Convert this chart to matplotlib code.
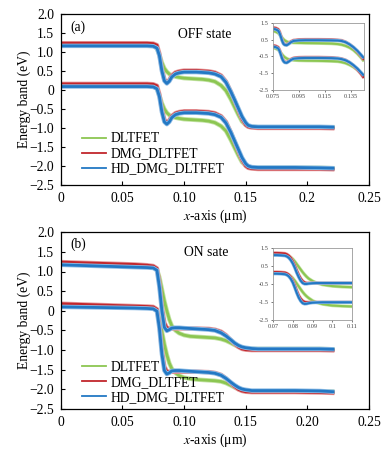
import matplotlib
matplotlib.use('Agg')
import matplotlib.pyplot as plt
import matplotlib.patheffects as pe

plt.rcParams['font.family'] = ['Liberation Serif', 'DejaVu Serif']
plt.rcParams['mathtext.fontset'] = 'stix'

# ---------------- data ----------------
# (a) OFF state, main panel
xa = [0, 0.02, 0.04, 0.06, 0.07, 0.075, 0.078, 0.080, 0.082, 0.084, 0.086, 0.088,
      0.090, 0.093, 0.096, 0.100, 0.105, 0.110, 0.115, 0.120, 0.125, 0.130, 0.134,
      0.138, 0.141, 0.144, 0.147, 0.150, 0.152, 0.155, 0.160, 0.170, 0.190, 0.210, 0.222]
a_ec_dl = [1.18, 1.18, 1.18, 1.18, 1.17, 1.16, 1.10, 0.92, 0.72, 0.57, 0.48, 0.42,
           0.38, 0.35, 0.33, 0.31, 0.30, 0.29, 0.28, 0.26, 0.22, 0.12, -0.02,
           -0.25, -0.45, -0.65, -0.83, -0.92, -0.95, -0.97, -0.98, -0.98, -0.98, -0.98, -0.98]
a_ec_dmg = [1.23, 1.23, 1.23, 1.23, 1.23, 1.22, 1.18, 0.95, 0.55, 0.28, 0.20, 0.26,
            0.38, 0.46, 0.49, 0.51, 0.51, 0.51, 0.50, 0.49, 0.46, 0.38, 0.22,
            -0.05, -0.28, -0.52, -0.76, -0.92, -0.97, -0.99, -1.00, -1.00, -1.00, -1.00, -1.01]
a_ec_hd = [1.16, 1.16, 1.16, 1.16, 1.16, 1.15, 1.10, 0.90, 0.50, 0.24, 0.17, 0.23,
           0.34, 0.42, 0.45, 0.47, 0.47, 0.47, 0.46, 0.45, 0.42, 0.35, 0.20,
           -0.05, -0.26, -0.48, -0.70, -0.86, -0.93, -0.96, -0.97, -0.97, -0.97, -0.97, -0.98]
a_ev_dl = [0.12, 0.12, 0.12, 0.12, 0.11, 0.10, 0.04, -0.15, -0.35, -0.50, -0.60, -0.66,
           -0.70, -0.73, -0.75, -0.77, -0.78, -0.79, -0.80, -0.82, -0.86, -0.95, -1.08,
           -1.32, -1.52, -1.72, -1.90, -1.99, -2.02, -2.04, -2.05, -2.05, -2.05, -2.05, -2.06]
a_ev_dmg = [0.16, 0.16, 0.16, 0.16, 0.16, 0.15, 0.11, -0.12, -0.52, -0.78, -0.86, -0.80,
            -0.69, -0.61, -0.58, -0.56, -0.56, -0.56, -0.57, -0.58, -0.61, -0.69, -0.84,
            -1.12, -1.36, -1.60, -1.84, -2.00, -2.05, -2.07, -2.08, -2.08, -2.08, -2.08, -2.09]
a_ev_hd = [0.09, 0.09, 0.09, 0.09, 0.09, 0.08, 0.03, -0.18, -0.58, -0.84, -0.90, -0.84,
           -0.73, -0.65, -0.62, -0.60, -0.60, -0.60, -0.61, -0.62, -0.65, -0.72, -0.87,
           -1.12, -1.34, -1.56, -1.78, -1.94, -2.00, -2.03, -2.04, -2.04, -2.04, -2.05, -2.06]

# (a) inset
xai = [0.075, 0.077, 0.079, 0.080, 0.081, 0.082, 0.083, 0.084, 0.0855, 0.087, 0.089,
       0.091, 0.095, 0.100, 0.110, 0.120, 0.125, 0.128, 0.131, 0.134, 0.137, 0.140, 0.143, 0.145]
ai_ec_dl = [1.02, 0.98, 0.90, 0.82, 0.72, 0.62, 0.53, 0.46, 0.39, 0.35, 0.33,
            0.32, 0.31, 0.30, 0.29, 0.27, 0.24, 0.20, 0.13, 0.03, -0.12, -0.33, -0.58, -0.78]
ai_ec_dmg = [1.22, 1.20, 1.12, 0.98, 0.75, 0.50, 0.30, 0.22, 0.20, 0.28, 0.40,
             0.47, 0.50, 0.51, 0.51, 0.50, 0.48, 0.45, 0.36, 0.22, 0.04, -0.20, -0.48, -0.70]
ai_ec_hd = [1.14, 1.12, 1.04, 0.90, 0.68, 0.44, 0.26, 0.19, 0.17, 0.24, 0.36,
            0.43, 0.46, 0.47, 0.47, 0.46, 0.45, 0.42, 0.35, 0.22, 0.05, -0.16, -0.42, -0.60]
ai_ev_dl = [0.02, -0.02, -0.10, -0.18, -0.28, -0.38, -0.47, -0.54, -0.62, -0.67, -0.70,
            -0.72, -0.74, -0.75, -0.76, -0.78, -0.80, -0.84, -0.90, -1.00, -1.13, -1.30, -1.50, -1.65]
ai_ev_dmg = [0.15, 0.13, 0.05, -0.10, -0.33, -0.57, -0.74, -0.82, -0.85, -0.78, -0.66,
             -0.59, -0.56, -0.55, -0.55, -0.57, -0.60, -0.64, -0.72, -0.86, -1.04, -1.28, -1.56, -1.78]
ai_ev_hd = [0.08, 0.06, -0.02, -0.16, -0.38, -0.62, -0.78, -0.86, -0.88, -0.81, -0.70,
            -0.63, -0.60, -0.59, -0.59, -0.60, -0.62, -0.66, -0.73, -0.85, -1.02, -1.22, -1.47, -1.64]

# (b) ON state, main panel
xb = [0, 0.02, 0.04, 0.06, 0.070, 0.075, 0.078, 0.080, 0.082, 0.084, 0.086, 0.088,
      0.090, 0.093, 0.096, 0.100, 0.105, 0.110, 0.120, 0.125, 0.130, 0.134, 0.138,
      0.141, 0.144, 0.147, 0.150, 0.155, 0.160, 0.170, 0.190, 0.210, 0.222]
b_ec_dl = [1.20, 1.18, 1.17, 1.15, 1.13, 1.11, 1.05, 0.85, 0.55, 0.25, 0.0, -0.22,
           -0.38, -0.50, -0.57, -0.62, -0.65, -0.66, -0.68, -0.69, -0.72, -0.76, -0.82,
           -0.87, -0.91, -0.94, -0.96, -0.97, -0.97, -0.97, -0.97, -0.97, -0.98]
b_ec_dmg = [1.24, 1.22, 1.20, 1.18, 1.16, 1.14, 1.08, 0.70, 0.10, -0.30, -0.43, -0.45,
            -0.45, -0.45, -0.45, -0.45, -0.45, -0.45, -0.46, -0.48, -0.53, -0.62, -0.75,
            -0.84, -0.92, -0.97, -0.99, -1.00, -1.00, -1.00, -1.00, -1.00, -1.01]
b_ec_hd = [1.17, 1.15, 1.13, 1.11, 1.10, 1.09, 1.03, 0.60, 0.00, -0.42, -0.51, -0.48,
           -0.44, -0.43, -0.43, -0.44, -0.45, -0.46, -0.48, -0.50, -0.56, -0.64, -0.74,
           -0.82, -0.88, -0.92, -0.94, -0.96, -0.97, -0.97, -0.97, -0.97, -0.98]
b_ev_dl = [0.13, 0.11, 0.10, 0.09, 0.08, 0.07, 0.01, -0.20, -0.52, -0.85, -1.12, -1.33,
           -1.47, -1.58, -1.65, -1.70, -1.73, -1.75, -1.77, -1.78, -1.80, -1.84, -1.90,
           -1.95, -1.99, -2.02, -2.04, -2.05, -2.05, -2.05, -2.05, -2.05, -2.06]
b_ev_dmg = [0.18, 0.16, 0.14, 0.12, 0.11, 0.10, 0.04, -0.35, -1.00, -1.42, -1.54, -1.55,
            -1.55, -1.55, -1.55, -1.55, -1.55, -1.55, -1.56, -1.58, -1.63, -1.72, -1.84,
            -1.93, -2.00, -2.04, -2.06, -2.07, -2.07, -2.07, -2.07, -2.08, -2.09]
b_ev_hd = [0.10, 0.09, 0.08, 0.07, 0.06, 0.05, -0.01, -0.45, -1.10, -1.52, -1.61, -1.58,
           -1.53, -1.52, -1.52, -1.53, -1.54, -1.55, -1.57, -1.59, -1.64, -1.72, -1.82,
           -1.89, -1.95, -1.99, -2.01, -2.03, -2.03, -2.03, -2.03, -2.04, -2.06]

# (b) inset
xbi = [0.070, 0.072, 0.074, 0.076, 0.077, 0.078, 0.079, 0.080, 0.081, 0.082, 0.083,
       0.084, 0.085, 0.086, 0.087, 0.088, 0.090, 0.092, 0.095, 0.098, 0.100, 0.105, 0.110]
bi_ec_dl = [1.16, 1.16, 1.15, 1.13, 1.10, 1.05, 0.98, 0.88, 0.75, 0.60, 0.45,
            0.30, 0.15, 0.02, -0.10, -0.20, -0.34, -0.44, -0.54, -0.59, -0.62, -0.66, -0.68]
bi_ec_dmg = [1.22, 1.22, 1.21, 1.19, 1.15, 1.07, 0.95, 0.76, 0.52, 0.25, 0.00,
             -0.20, -0.34, -0.42, -0.45, -0.45, -0.45, -0.45, -0.45, -0.45, -0.45, -0.45, -0.45]
bi_ec_hd = [1.10, 1.10, 1.09, 1.07, 1.03, 0.95, 0.82, 0.64, 0.40, 0.12, -0.12,
            -0.32, -0.45, -0.50, -0.50, -0.48, -0.46, -0.45, -0.45, -0.45, -0.45, -0.45, -0.45]
bi_ev_dl = [0.12, 0.12, 0.11, 0.09, 0.06, 0.01, -0.07, -0.18, -0.32, -0.48, -0.64,
            -0.80, -0.95, -1.08, -1.19, -1.28, -1.43, -1.53, -1.62, -1.67, -1.70, -1.73, -1.75]
bi_ev_dmg = [0.16, 0.16, 0.15, 0.13, 0.09, 0.01, -0.12, -0.32, -0.58, -0.88, -1.14,
             -1.32, -1.44, -1.50, -1.52, -1.52, -1.52, -1.52, -1.52, -1.52, -1.52, -1.52, -1.52]
bi_ev_hd = [0.07, 0.07, 0.06, 0.04, 0.00, -0.08, -0.22, -0.42, -0.70, -1.00, -1.26,
            -1.45, -1.57, -1.61, -1.60, -1.57, -1.54, -1.53, -1.52, -1.52, -1.52, -1.52, -1.52]

series_names = ['DLTFET', 'DMG_DLTFET', 'HD_DMG_DLTFET']
colors = ['#8cc652', '#c2262c', '#2378c4']
halos = ['#c3e3a4', '#e69a9c', '#8fbde6']

y_ticks = [2.0, 1.5, 1.0, 0.5, 0, -0.5, -1.0, -1.5, -2.0, -2.5]
y_ticklabels = ['2.0', '1.5', '1.0', '0.5', '0', '\u22120.5', '\u22121.0', '\u22121.5', '\u22122.0', '\u22122.5']
x_ticks = [0, 0.05, 0.10, 0.15, 0.20, 0.25]
xa_ticklabels = ['0', '0.05', '0.10', '0.15', '0.2', '0.25']
xb_ticklabels = ['0', '0.05', '0.10', '0.15', '0.20', '0.25']
inset_y = [1.5, 0.5, -0.5, -1.5, -2.5]
inset_ylabels = ['1.5', '0.5', '-0.5', '-1.5', '-2.5']
xai_ticks = [0.075, 0.095, 0.115, 0.135]
xbi_ticks = [0.07, 0.08, 0.09, 0.10, 0.11]
xbi_ticklabels = ['0.07', '0.08', '0.09', '0.1', '0.11']

FS = 9.8


def draw_curves(ax, x, curves, lw, halo_lw):
    # curves: list of (ec, ev) per series
    for i, (ec, ev) in enumerate(curves):
        eff = [pe.Stroke(linewidth=halo_lw, foreground=halos[i]), pe.Normal()]
        ax.plot(x, ec, color=colors[i], lw=lw, path_effects=eff, solid_capstyle='butt')
        ax.plot(x, ev, color=colors[i], lw=lw, path_effects=eff, solid_capstyle='butt')


def style_main(ax, xlabels):
    ax.set_xlim(0, 0.25)
    ax.set_ylim(-2.5, 2.0)
    ax.set_xticks(x_ticks)
    ax.set_xticklabels(xlabels)
    ax.set_yticks(y_ticks)
    ax.set_yticklabels(y_ticklabels)
    ax.tick_params(direction='in', length=3, width=0.8, labelsize=FS, pad=5)
    for s in ax.spines.values():
        s.set_linewidth(0.9)
    ax.set_xlabel('$\\it{x}$-axis (\u03bcm)', fontsize=FS, labelpad=2)
    ax.set_ylabel('Energy band (eV)', fontsize=FS, labelpad=-1)


def style_inset(ax, xlim, xticks, xlabels):
    ax.set_xlim(*xlim)
    ax.set_ylim(-2.5, 1.5)
    ax.set_xticks(xticks)
    ax.set_xticklabels(xlabels)
    ax.set_yticks(inset_y)
    ax.set_yticklabels(inset_ylabels)
    ax.tick_params(direction='out', length=1.5, width=0.5, labelsize=4.5, pad=1.5,
                   colors='#444444')
    for s in ax.spines.values():
        s.set_linewidth(0.6)
        s.set_color('#999999')


fig = plt.figure(figsize=(3.9, 4.5), dpi=100)
handles = [plt.Line2D([], [], color=c, lw=1.3) for c in colors]
leg_kw = dict(loc='lower left', frameon=False, fontsize=FS, handlelength=1.75,
              handletextpad=0.35, labelspacing=0.15, borderaxespad=0, borderpad=0)

# ---- panel (a)
ax1 = fig.add_axes([0.156, 0.589, 0.79, 0.38])
draw_curves(ax1, xa, [(a_ec_dl, a_ev_dl), (a_ec_dmg, a_ev_dmg), (a_ec_hd, a_ev_hd)], 2.0, 3.2)
style_main(ax1, xa_ticklabels)
ax1.text(0.03, 0.96, '(a)', transform=ax1.transAxes, fontsize=FS, va='top')
ax1.text(0.38, 0.92, 'OFF state', transform=ax1.transAxes, fontsize=FS, va='top')
ax1.legend(handles, series_names, bbox_to_anchor=(0.07, 0.055), **leg_kw)

ax1i = fig.add_axes([0.700, 0.800, 0.233, 0.149])
draw_curves(ax1i, xai, [(ai_ec_dl, ai_ev_dl), (ai_ec_dmg, ai_ev_dmg), (ai_ec_hd, ai_ev_hd)], 1.5, 2.4)
style_inset(ax1i, (0.075, 0.145), xai_ticks, [str(v) for v in xai_ticks])

# ---- panel (b)
ax2 = fig.add_axes([0.156, 0.091, 0.79, 0.393])
draw_curves(ax2, xb, [(b_ec_dl, b_ev_dl), (b_ec_dmg, b_ev_dmg), (b_ec_hd, b_ev_hd)], 2.0, 3.2)
style_main(ax2, xb_ticklabels)
ax2.text(0.03, 0.97, '(b)', transform=ax2.transAxes, fontsize=FS, va='top')
ax2.text(0.40, 0.92, 'ON sate', transform=ax2.transAxes, fontsize=FS, va='top')
ax2.legend(handles, series_names, bbox_to_anchor=(0.07, 0.03), **leg_kw)

ax2i = fig.add_axes([0.700, 0.289, 0.203, 0.16])
draw_curves(ax2i, xbi, [(bi_ec_dl, bi_ev_dl), (bi_ec_dmg, bi_ev_dmg), (bi_ec_hd, bi_ev_hd)], 1.5, 2.4)
style_inset(ax2i, (0.07, 0.11), xbi_ticks, xbi_ticklabels)

fig.savefig('out.png', dpi=100)
